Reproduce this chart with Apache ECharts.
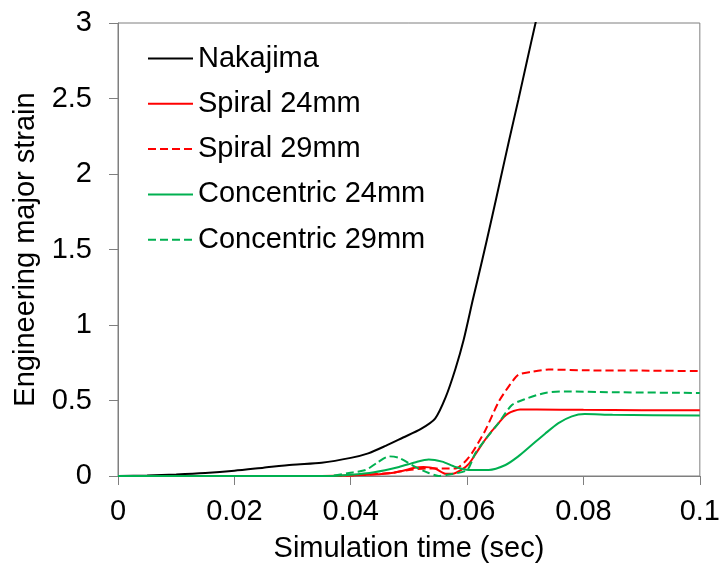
<!DOCTYPE html>
<html>
<head>
<meta charset="utf-8">
<script src="https://cdn.jsdelivr.net/npm/echarts@6/dist/echarts.min.js"></script>
<style>html,body{margin:0;padding:0;background:#fff}#c{width:723px;height:568px}</style>
</head>
<body>
<div id="c"></div>
<script>
var seriesNames = ['Nakajima', 'Spiral 24mm', 'Spiral 29mm', 'Concentric 24mm', 'Concentric 29mm'];

var nakajimaT = [0, 0.005, 0.01, 0.015, 0.02, 0.025, 0.03, 0.035, 0.04, 0.043, 0.046, 0.049, 0.052, 0.0545, 0.0563, 0.058, 0.0594, 0.061, 0.0626, 0.0642, 0.0657, 0.0672, 0.0688, 0.0703, 0.0717, 0.073];
var nakajimaV = [0, 0.003, 0.01, 0.02, 0.035, 0.055, 0.075, 0.088, 0.12, 0.15, 0.2, 0.255, 0.31, 0.38, 0.52, 0.71, 0.9, 1.17, 1.43, 1.7, 1.96, 2.22, 2.49, 2.75, 2.99, 3.2];

var spiral24T = [0, 0.035, 0.04, 0.044, 0.047, 0.049, 0.051, 0.0525, 0.0545, 0.0563, 0.0575, 0.059, 0.0603, 0.0617, 0.0631, 0.0643, 0.0654, 0.0663, 0.0671, 0.068, 0.0691, 0.072, 0.08, 0.09, 0.1];
var spiral24V = [0, 0, 0.003, 0.01, 0.02, 0.035, 0.055, 0.06, 0.05, 0.015, 0.015, 0.04, 0.08, 0.16, 0.24, 0.3, 0.35, 0.39, 0.415, 0.43, 0.44, 0.44, 0.438, 0.436, 0.435];

var spiral29T = [0, 0.036, 0.042, 0.047, 0.05, 0.053, 0.056, 0.058, 0.0595, 0.0608, 0.0631, 0.0654, 0.0671, 0.0688, 0.0711, 0.074, 0.08, 0.09, 0.1];
var spiral29V = [0, 0, 0.008, 0.02, 0.04, 0.05, 0.05, 0.05, 0.09, 0.15, 0.3, 0.49, 0.59, 0.67, 0.69, 0.705, 0.7, 0.698, 0.695];

var concentric24T = [0, 0.036, 0.04, 0.044, 0.0483, 0.051, 0.0534, 0.0557, 0.058, 0.0603, 0.0637, 0.0666, 0.0688, 0.0711, 0.0734, 0.0757, 0.078, 0.0802, 0.085, 0.1];
var concentric24V = [0, 0, 0.008, 0.025, 0.06, 0.09, 0.11, 0.095, 0.06, 0.04, 0.04, 0.073, 0.13, 0.205, 0.28, 0.35, 0.395, 0.41, 0.405, 0.40];

var concentric29T = [0, 0.036, 0.0397, 0.0426, 0.0446, 0.0466, 0.0483, 0.0511, 0.0534, 0.0551, 0.0569, 0.06, 0.0614, 0.0631, 0.0654, 0.0677, 0.07, 0.0734, 0.0768, 0.085, 0.1];
var concentric29V = [0, 0, 0.02, 0.04, 0.09, 0.13, 0.12, 0.06, 0.02, 0.0, 0.01, 0.04, 0.15, 0.24, 0.35, 0.47, 0.51, 0.55, 0.56, 0.555, 0.55];

function pairs(t, v) { return t.map(function (x, i) { return [x, v[i]]; }); }

var FONT = "'Liberation Sans', Arial, sans-serif";
var FS = 29;
var colors = ['#000000', '#FF0000', '#FF0000', '#00B050', '#00B050'];
var dashes = ['solid', 'solid', [8, 4], 'solid', [8, 4]];
var dataSets = [pairs(nakajimaT, nakajimaV), pairs(spiral24T, spiral24V), pairs(spiral29T, spiral29V),
                pairs(concentric24T, concentric24V), pairs(concentric29T, concentric29V)];

var chart = echarts.init(document.getElementById('c'), null, { renderer: 'canvas' });
chart.setOption({
  animation: false,
  backgroundColor: '#fff',
  grid: { left: 118, right: 21, top: 23, bottom: 92, show: true, borderColor: '#7f7f7f', borderWidth: 1 },
  legend: {
    orient: 'vertical', left: 147, top: 44, padding: 0,
    itemWidth: 45, itemHeight: 29, itemGap: 16.3,
    itemStyle: { opacity: 0 },
    textStyle: { fontFamily: FONT, fontSize: FS, color: '#000' },
    data: seriesNames
  },
  xAxis: {
    type: 'value', min: 0, max: 0.1, interval: 0.02,
    name: 'Simulation time (sec)', nameLocation: 'middle', nameGap: 58,
    nameTextStyle: { fontFamily: FONT, fontSize: FS, color: '#000' },
    axisLine: { show: true, lineStyle: { color: '#7f7f7f', width: 1 } },
    axisTick: { show: true, inside: false, length: 9, lineStyle: { color: '#7f7f7f' } },
    axisLabel: { fontFamily: FONT, fontSize: FS, color: '#000', margin: 21 },
    splitLine: { show: false }
  },
  yAxis: {
    type: 'value', min: 0, max: 3, interval: 0.5,
    name: 'Engineering major strain', nameLocation: 'middle', nameGap: 71,
    nameTextStyle: { fontFamily: FONT, fontSize: FS, color: '#000' },
    axisLine: { show: true, lineStyle: { color: '#7f7f7f', width: 1 } },
    axisTick: { show: true, inside: false, length: 9, lineStyle: { color: '#7f7f7f' } },
    axisLabel: { fontFamily: FONT, fontSize: FS, color: '#000', margin: 26 },
    splitLine: { show: false }
  },
  series: seriesNames.map(function (n, i) {
    return {
      name: n, type: 'line', data: dataSets[i], symbol: 'none',
      smooth: 0.25, clip: true,
      color: colors[i],
      lineStyle: { color: colors[i], width: 2, type: dashes[i] }
    };
  })
});
</script>
</body>
</html>
